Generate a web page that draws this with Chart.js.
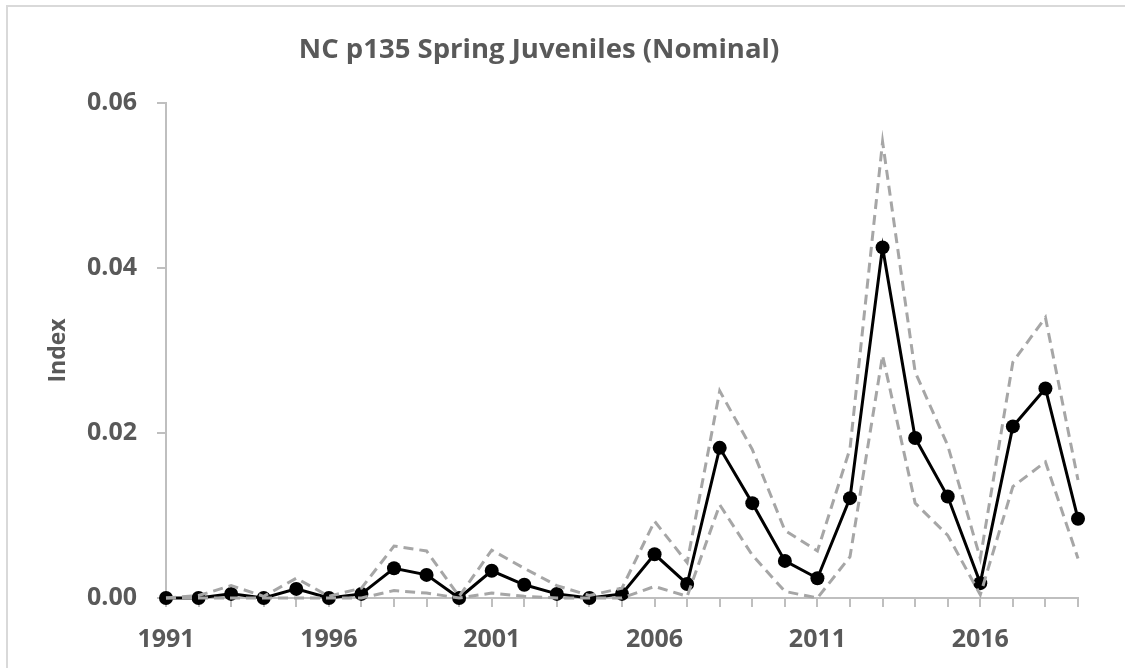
<!DOCTYPE html>
<html>
<head>
<meta charset="utf-8">
<script src="https://cdn.jsdelivr.net/npm/chart.js@4.4.1/dist/chart.umd.min.js"></script>
<style>
    html, body { margin: 0; padding: 0; background: #fff; overflow: hidden; }
    #wrap { position: relative; width: 1125px; height: 668px; }
    #frame { position: absolute; left: 6px; top: 5px; width: 1200px; height: 800px; border: 2px solid #d9d9d9; box-sizing: border-box; }
    canvas { position: absolute; left: 0; top: 0; }
</style>
</head>
<body>
<div id="wrap">
    <div id="frame"></div>
    <canvas id="chart" width="1125" height="668"></canvas>
</div>
<script>
// Data
const years = ['1991','1992','1993','1994','1995','1996','1997','1998','1999','2000',
    '2001','2002','2003','2004','2005','2006','2007','2008','2009','2010',
    '2011','2012','2013','2014','2015','2016','2017','2018','2019'];

const indexValues = [0, 0, 0.0005, 0, 0.0011, 0, 0.0005, 0.0036, 0.0028, 0,
    0.0033, 0.0016, 0.0005, 0, 0.0005, 0.0053, 0.0017, 0.0182, 0.0115, 0.0045,
    0.0024, 0.0121, 0.0425, 0.0194, 0.0123, 0.0018, 0.0208, 0.0254, 0.0096];

const upperCI = [0, 0.0003, 0.0015, 0.0002, 0.0024, 0.0002, 0.0012, 0.0063, 0.0057, 0.0002,
    0.0058, 0.0036, 0.0015, 0.0003, 0.0012, 0.0093, 0.0043, 0.0251, 0.018, 0.0082,
    0.0057, 0.0181, 0.0553, 0.0274, 0.0185, 0.0048, 0.0286, 0.034, 0.0143];

const lowerCI = [0, 0, 0, 0, 0, 0, 0, 0.0009, 0.0006, 0,
    0.0006, 0.0002, 0, 0, 0, 0.0014, 0.0002, 0.0113, 0.0052, 0.0008,
    0, 0.005, 0.0294, 0.0115, 0.0076, 0.0004, 0.0135, 0.0165, 0.0048];

const yTicks = [0, 0.02, 0.04, 0.06];

const textGrey = '#595959';
const axisGrey = '#bfbfbf';
const dashGrey = '#a6a6a6';
const fontFamily = '"Open Sans", "DejaVu Sans", sans-serif';

const dashedStyle = {
    borderColor: dashGrey,
    borderWidth: 3,
    borderDash: [10, 6],
    pointRadius: 0,
    fill: false,
    tension: 0,
    clip: false
};

const ctx = document.getElementById('chart').getContext('2d');
new Chart(ctx, {
    type: 'line',
    data: {
        labels: years,
        datasets: [
            { label: 'Upper', data: upperCI, ...dashedStyle },
            { label: 'Lower', data: lowerCI, ...dashedStyle },
            {
                label: 'Index',
                data: indexValues,
                borderColor: '#000',
                borderWidth: 3,
                backgroundColor: '#000',
                pointBackgroundColor: '#000',
                pointBorderColor: '#000',
                pointRadius: 7,
                pointBorderWidth: 0,
                fill: false,
                tension: 0,
                clip: false
            }
        ]
    },
    options: {
        responsive: false,
        animation: false,
        layout: { padding: { left: 0, right: 47, top: 0, bottom: -4 } },
        plugins: {
            legend: { display: false },
            tooltip: { enabled: false },
            title: {
                display: true,
                text: 'NC p135 Spring Juveniles (Nominal)',
                color: textGrey,
                font: { family: fontFamily, size: 27.5, weight: 'bold', lineHeight: 1.2 },
                padding: { top: 34, bottom: 36 }
            }
        },
        scales: {
            x: {
                type: 'category',
                offset: false,
                grid: {
                    drawOnChartArea: false,
                    drawTicks: true,
                    tickLength: 9,
                    color: axisGrey,
                    lineWidth: 2
                },
                border: { color: axisGrey, width: 2 },
                ticks: {
                    autoSkip: false,
                    maxRotation: 0,
                    padding: 20,
                    color: textGrey,
                    font: { family: fontFamily, size: 25, weight: 'bold', lineHeight: 1.0 },
                    callback: function(value, i) {
                        return i % 5 === 0 ? years[i] : '';
                    }
                }
            },
            y: {
                min: 0,
                max: 0.06,
                afterBuildTicks: function(axis) {
                    axis.ticks = yTicks.map(v => ({ value: v }));
                },
                grid: {
                    drawOnChartArea: false,
                    drawTicks: true,
                    tickLength: 9,
                    color: axisGrey,
                    lineWidth: 2
                },
                border: { color: axisGrey, width: 2 },
                ticks: {
                    padding: 20,
                    color: textGrey,
                    font: { family: fontFamily, size: 25, weight: 'bold' },
                    callback: function(value) {
                        return value.toFixed(2);
                    }
                },
                title: {
                    display: true,
                    text: 'Index',
                    color: textGrey,
                    font: { family: fontFamily, size: 23, weight: 'bold' },
                    padding: { top: 45, bottom: 0 }
                },
                afterFit: function(axis) {
                    axis.width = 166;
                }
            }
        }
    }
});
</script>
</body>
</html>
